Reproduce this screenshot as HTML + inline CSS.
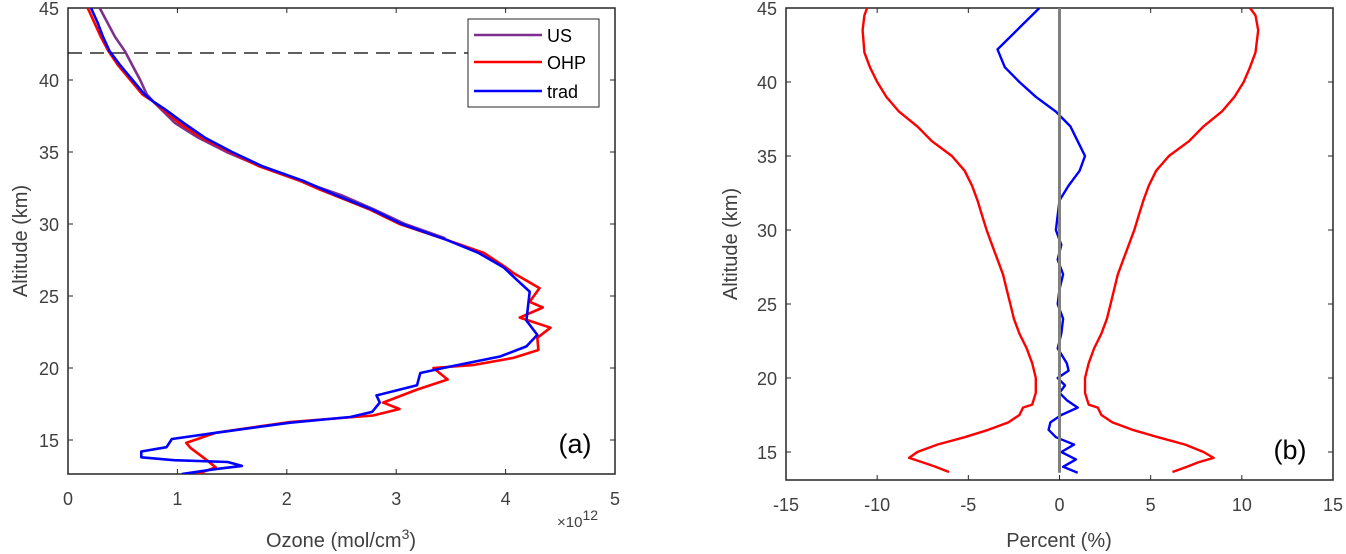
<!DOCTYPE html>
<html><head><meta charset="utf-8"><style>
body{margin:0;background:#fff}
svg{display:block;font-family:"Liberation Sans",sans-serif}
</style></head><body>
<svg id="s" width="1346" height="554" viewBox="0 0 1346 554"></svg>
<script>
const usAlt=[45,43,42,41,40,39,38.5,37,36,35,34,33,32,31,30,29];
const usOz=[0.29,0.43,0.52,0.59,0.66,0.72,0.78,0.98,1.19,1.45,1.76,2.12,2.5,2.8,3.08,3.45];
const ohpAlt=[45,44,43,42,41,40,39,38.5,38,37,36,35,34,33,32.4,31,30,28.9,28,27,26.6,25.55,24.6,24.2,23.5,22.8,22.1,21.25,20.7,20.2,20.0,19.2,18.5,17.6,17.15,16.7,16.25,15.5,14.8,14.45,13.6,13.1,12.64];
const ohpOz=[0.18,0.24,0.3,0.37,0.46,0.57,0.68,0.78,0.86,1.02,1.22,1.48,1.75,2.12,2.3,2.76,3.03,3.46,3.8,4.0,4.07,4.31,4.22,4.34,4.13,4.41,4.29,4.3,4.07,3.7,3.34,3.47,3.19,2.88,3.03,2.79,2.03,1.35,1.08,1.12,1.27,1.35,1.18];
const tradAlt=[45,44,43,42,41,40,39,38.5,38,37,36,35,34,33,32,31,30,28.9,28,27,26,25.3,23.3,22.3,21.5,20.8,20.1,19.65,18.8,18.1,17.6,16.95,16.6,16.2,15.5,15.07,14.5,14.2,13.8,13.6,13.47,13.2,12.98,12.64];
const tradOz=[0.21,0.27,0.32,0.38,0.48,0.59,0.7,0.78,0.88,1.06,1.25,1.5,1.78,2.15,2.45,2.78,3.05,3.46,3.75,3.98,4.12,4.22,4.19,4.29,4.19,3.95,3.49,3.22,3.19,2.82,2.85,2.78,2.58,2.03,1.35,0.95,0.9,0.67,0.67,0.97,1.46,1.59,1.35,1.04];
const envAlt=[45,44.5,43.5,42,41,40,39,38,37,36,35,34,33,32,31,30,29,28,27,26,25,24,23,22,21,20,19,18.2,18,17.5,17,16.5,16,15.5,15,14.6,14.3,14,13.65];
const envHi=[10.45,10.75,10.9,10.75,10.45,10.1,9.6,8.9,7.9,7.1,6.0,5.3,4.9,4.6,4.35,4.1,3.8,3.5,3.2,3.0,2.8,2.6,2.3,1.9,1.6,1.4,1.4,1.6,2.1,2.3,2.9,4.0,5.4,6.9,7.9,8.45,7.6,7.0,6.2];
const envLo=[-10.55,-10.7,-10.8,-10.7,-10.4,-10.0,-9.5,-8.8,-7.8,-7.0,-5.9,-5.2,-4.8,-4.5,-4.25,-4.0,-3.7,-3.4,-3.1,-2.9,-2.7,-2.5,-2.2,-1.8,-1.5,-1.3,-1.3,-1.5,-2.0,-2.2,-2.8,-3.9,-5.2,-6.7,-7.8,-8.25,-7.5,-6.8,-6.06];
const difAlt=[45,42.2,41,40,39,38,37,36,35,34,33,32,31,30,29,28,27,26,25,24,23,22,21,20.5,20,19.5,19,18.5,18,17.5,17,16.5,16,15.5,15,14.5,14,13.6];
const difPct=[-1.1,-3.4,-3.0,-2.2,-1.3,-0.2,0.6,1.0,1.4,1.1,0.5,0,-0.1,-0.2,0.1,-0.1,0.2,0,-0.1,0.2,0.1,-0.1,0.4,0.5,-0.1,0.3,0,0.4,1.0,0.1,-0.5,-0.6,-0.2,0.8,0.1,0.9,0.2,1.0];
const xTicksA=[0,1,2,3,4,5], yTicks=[15,20,25,30,35,40,45], xTicksB=[-15,-10,-5,0,5,10,15];

const NS='http://www.w3.org/2000/svg', S=document.getElementById('s');
function mk(t,a,p){const e=document.createElementNS(NS,t);for(const k in a)e.setAttribute(k,a[k]);(p||S).appendChild(e);return e;}
const A={l:68,r:615,t:8,b:474,x0:0,x1:5,ytop:45,ky:14.4};
const B={l:786,r:1333,t:8,b:480,x0:-15,x1:15,ytop:45,ky:14.8};
const sx=(ax,v)=>ax.l+(v-ax.x0)/(ax.x1-ax.x0)*(ax.r-ax.l);
const sy=(ax,v)=>ax.t+(ax.ytop-v)*ax.ky;
function line(ax,xs,ys,col,name,w){const pts=xs.map((v,i)=>sx(ax,v).toFixed(1)+','+sy(ax,ys[i]).toFixed(1)).join(' ');
 const e=mk('polyline',{points:pts,fill:'none',stroke:col,'stroke-width':w||2.6,'stroke-linejoin':'round','clip-path':'url(#c'+(ax===A?'a':'b')+')'});
 
 }
const defs=mk('defs',{});
const ca=mk('clipPath',{id:'ca'},defs);mk('rect',{x:A.l,y:A.t,width:A.r-A.l,height:A.b-A.t},ca);
const cb=mk('clipPath',{id:'cb'},defs);mk('rect',{x:B.l,y:B.t,width:B.r-B.l,height:B.b-B.t},cb);
function axes(ax,xt,pre){
 const g=mk('g',{});
 mk('rect',{x:ax.l,y:ax.t,width:ax.r-ax.l,height:ax.b-ax.t,fill:'none',stroke:'#262626','stroke-width':1.5},g);
 xt.forEach(v=>{const x=sx(ax,v);mk('line',{x1:x,x2:x,y1:ax.b,y2:ax.b-5,stroke:'#262626'},g);mk('line',{x1:x,x2:x,y1:ax.t,y2:ax.t+5,stroke:'#262626'},g);
  const t=mk('text',{x:x,y:ax.b+31,'text-anchor':'middle','font-size':18,fill:'#404040'},g);t.textContent=v;
  });
 yTicks.forEach(v=>{const y=sy(ax,v);if(y>ax.b)return;mk('line',{x1:ax.l,x2:ax.l+5,y1:y,y2:y,stroke:'#262626'},g);mk('line',{x1:ax.r,x2:ax.r-5,y1:y,y2:y,stroke:'#262626'},g);
  const t=mk('text',{x:ax.l-9,y:y+7,'text-anchor':'end','font-size':18,fill:'#404040'},g);t.textContent=v;
  });
}
axes(A,xTicksA,'left');axes(B,xTicksB,'right');
const d=mk('line',{x1:A.l,x2:468,y1:53,y2:53,stroke:'#000','stroke-width':1.3,'stroke-dasharray':'14,8'});

line(A,usOz,usAlt,'#7e2f8e','us-line');
line(A,ohpOz,ohpAlt,'#ff0000','ohp-line');
line(A,tradOz,tradAlt,'#0000ff','trad-line');
line(B,envHi,envAlt,'#ff0000','upper-envelope-line',2.4);
line(B,envLo,envAlt,'#ff0000','lower-envelope-line',2.4);
line(B,difPct,difAlt,'#0000ff','difference-line',2.4);
const z=mk('line',{x1:sx(B,0),x2:sx(B,0),y1:sy(B,45),y2:sy(B,13.6),stroke:'#808080','stroke-width':3});

const lg=mk('g',{});
mk('rect',{x:468,y:19,width:131,height:88,fill:'#fff',stroke:'#262626','stroke-width':1},lg);
[['US','#7e2f8e',35],['OHP','#ff0000',62],['trad','#0000ff',91]].forEach(([n,c,y])=>{
 const e=mk('g',{},lg);
 mk('line',{x1:474,x2:542,y1:y,y2:y,stroke:c,'stroke-width':2.6},e);
 const t=mk('text',{x:547,y:y+7,'font-size':18,fill:'#000'},e);t.textContent=n;});
function txt(s,a,name){const t=mk('text',a);t.innerHTML=s;return t;}
txt('Ozone (mol/cm<tspan dy="-8" font-size="14">3</tspan><tspan dy="8">)</tspan>',{x:341,y:547,'text-anchor':'middle','font-size':20,fill:'#404040'},'x-axis-title-left');
txt('×10<tspan dy="-7" font-size="14">12</tspan>',{x:557,y:527,'font-size':15,fill:'#404040'},'x-exponent');
txt('Altitude (km)',{x:0,y:0,transform:'translate(27,241) rotate(-90)','text-anchor':'middle','font-size':20,fill:'#404040'},'y-axis-title-left');
txt('Percent (%)',{x:1059,y:547,'text-anchor':'middle','font-size':20,fill:'#404040'},'x-axis-title-right');
txt('Altitude (km)',{x:0,y:0,transform:'translate(737,244) rotate(-90)','text-anchor':'middle','font-size':20,fill:'#404040'},'y-axis-title-right');
txt('(a)',{x:575,y:453,'text-anchor':'middle','font-size':27,fill:'#000'},'panel-label-a');
txt('(b)',{x:1290,y:459,'text-anchor':'middle','font-size':27,fill:'#000'},'panel-label-b');
</script>
</body></html>
